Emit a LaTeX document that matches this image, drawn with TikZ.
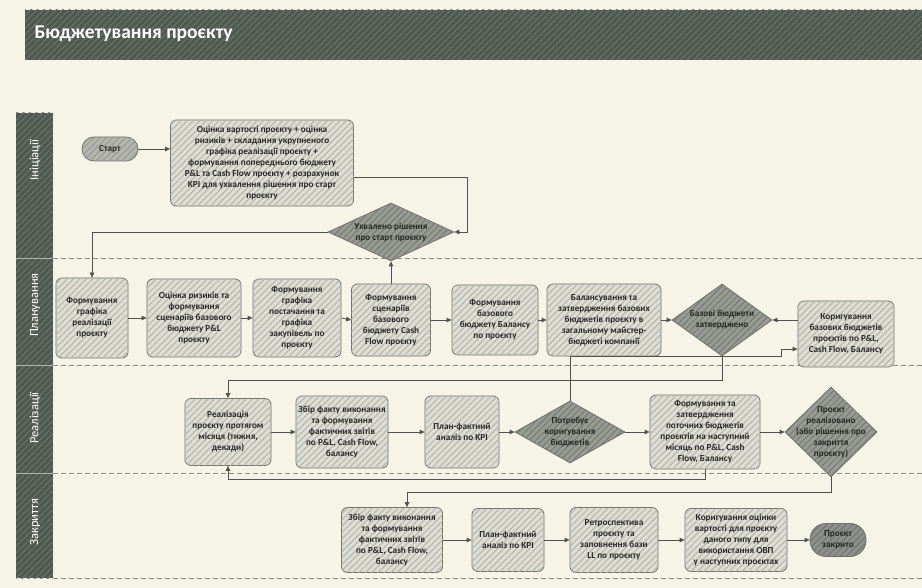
\documentclass[tikz,border=0pt]{standalone}
\usepackage{fontspec}
\setmainfont{Carlito}
\usetikzlibrary{shapes.geometric,arrows.meta,patterns.meta,calc}
\definecolor{bgc}{HTML}{F6F4E6}
\definecolor{darkc}{HTML}{4F5950}
\definecolor{darkh}{HTML}{66716A}
\definecolor{boxc}{HTML}{DEDED4}
\definecolor{boxh}{HTML}{B7B8AE}
\definecolor{diac}{HTML}{989B94}
\definecolor{diah}{HTML}{7B7E78}
\definecolor{startc}{HTML}{B5B7AF}
\definecolor{starth}{HTML}{9A9C95}
\definecolor{endc}{HTML}{8E918B}
\definecolor{endh}{HTML}{757872}
\definecolor{linec}{HTML}{505050}
\definecolor{bordc}{HTML}{6E6E6A}
\definecolor{txtc}{HTML}{262624}
\definecolor{lanec}{HTML}{8A8A84}
\tikzset{
  hatchb/.style={postaction={pattern={Lines[angle=45,distance=4.5pt,line width=1.2pt]},pattern color=#1}},
  nfont/.style={font=\fontsize{9.2}{11}\selectfont\bfseries, text=txtc},
  proc/.style={rectangle, rounded corners=6pt, draw=bordc, line width=0.8pt, fill=boxc, hatchb=boxh, align=center, nfont, inner sep=1pt},
  dia/.style={diamond, draw=bordc, line width=0.8pt, fill=diac, hatchb=diah, inner sep=0pt},
  dtext/.style={align=center, nfont, inner sep=0pt},
  pill/.style={rectangle, draw=bordc, line width=0.8pt, align=center, nfont, inner sep=1pt},
  conn/.style={draw=linec, line width=0.8pt, -{Triangle[length=5pt,width=4.5pt]}},
  laneline/.style={draw=lanec, line width=0.7pt, dash pattern=on 5pt off 3pt},
  lanelabel/.style={rotate=90, text=white, font=\fontsize{12.5}{14}\selectfont},
}
\begin{document}
\begin{tikzpicture}[x=1pt,y=-1pt]
\useasboundingbox (0,0) rectangle (922,588);
\fill[bgc] (0,0) rectangle (922,588);

% title bar
\fill[darkc, hatchb=darkh] (25,10) rectangle (922,60);
\node[anchor=west, text=white, font=\fontsize{19.5}{22}\selectfont\bfseries] (title) at (31,34) {Бюджетування проєкту};

% lane strip
\fill[darkc, hatchb=darkh] (16,113) rectangle (53,578);
\foreach \yy in {258,365,473} \draw[white!55!darkc, line width=0.8pt] (16,\yy) -- (53,\yy);
\node[lanelabel] (L1) at (35,160) {Ініціації};
\node[lanelabel] (L2) at (35,305) {Планування};
\node[lanelabel] (L3) at (35,418) {Реалізації};
\node[lanelabel] (L4) at (35,522) {Закриття};

% lane dividers
\foreach \yy in {258,365,473,578} \draw[laneline] (53,\yy) -- (922,\yy);

% Lane 1
\node[pill, rounded corners=12pt, fill=startc, hatchb=starth, minimum width=56pt, minimum height=24pt] (start) at (110,149) {Старт};
\node[proc, minimum width=183pt, minimum height=86pt] (B1) at (262,163) {Оцінка вартості проєкту + оцінка\\ризиків + складання укрупненого\\графіка реалізації проєкту +\\формування попереднього бюджету\\P\&L та Cash Flow проєкту + розрахунок\\KPI для ухвалення рішення про старт\\проєкту};
\node[dia, minimum width=126pt, minimum height=58pt] (D1) at (391,232) {};
\node[dtext] (D1t) at (D1) {Ухвалено рішення\\про старт проєкту};

% Lane 2
\node[proc, minimum width=72pt, minimum height=80pt] (P1) at (92,318) {Формування\\графіка\\реалізації\\проєкту};
\node[proc, minimum width=94pt, minimum height=78pt] (P2) at (194,318) {Оцінка ризиків та\\формування\\сценаріїв базового\\бюджету P\&L\\проєкту};
\node[proc, minimum width=88pt, minimum height=78pt] (P3) at (297,318) {Формування\\графіка\\постачання та\\графіка\\закупівель по\\проєкту};
\node[proc, minimum width=79pt, minimum height=72pt] (P4) at (391,320) {Формування\\сценаріїв\\базового\\бюджету Cash\\Flow проєкту};
\node[proc, minimum width=86pt, minimum height=70pt] (P5) at (495,320) {Формування\\базового\\бюджету Балансу\\по проєкту};
\node[proc, minimum width=114pt, minimum height=72pt] (P6) at (604,320) {Балансування та\\затвердження базових\\бюджетів проєкту в\\загальному майстер-\\бюджеті компанії};
\node[dia, minimum width=100pt, minimum height=72pt] (D2) at (722,320) {};
\node[dtext] (D2t) at (D2) {Базові бюджети\\затверджено};
\node[proc, minimum width=96pt, minimum height=66pt] (P7) at (846,334) {Коригування\\базових бюджетів\\проєктів по P\&L,\\Cash Flow, Балансу};

% Lane 3
\node[proc, minimum width=86pt, minimum height=67pt] (R1) at (228,432) {Реалізація\\проєкту протягом\\місяця (тижня,\\декади)};
\node[proc, minimum width=92pt, minimum height=72pt] (R2) at (342,432) {Збір факту виконання\\та формування\\фактичних звітів\\по P\&L, Cash Flow,\\балансу};
\node[proc, minimum width=74pt, minimum height=72pt] (R3) at (462,432) {План-фактний\\аналіз по KPI};
\node[dia, minimum width=110pt, minimum height=62pt] (D3) at (570,432) {};
\node[dtext] (D3t) at (D3) {Потребує\\коригування\\бюджетів};
\node[proc, minimum width=110pt, minimum height=74pt] (R4) at (705,432) {Формування та\\затвердження\\поточних бюджетів\\проєктів на наступний\\місяць по P\&L, Cash\\Flow, Балансу};
\node[dia, minimum width=92pt, minimum height=90pt] (D4) at (831,432) {};
\node[dtext] (D4t) at (D4) {Проєкт\\реалізовано\\(або рішення про\\закриття\\проєкту)};

% Lane 4
\node[proc, minimum width=101pt, minimum height=65pt] (C1) at (392,540) {Збір факту виконання\\та формування\\фактичних звітів\\по P\&L, Cash Flow,\\балансу};
\node[proc, minimum width=72pt, minimum height=63pt] (C2) at (508,540) {План-фактний\\аналіз по KPI};
\node[proc, minimum width=88pt, minimum height=65pt] (C3) at (614,540) {Ретроспектива\\проєкту та\\заповнення бази\\LL по проєкту};
\node[proc, minimum width=102pt, minimum height=63pt] (C4) at (736,540) {Коригування оцінки\\вартості для проєкту\\даного типу для\\використання ОВП\\у наступних проєктах};
\node[pill, rounded corners=16pt, fill=endc, hatchb=endh, minimum width=56pt, minimum height=33pt] (end) at (838,540) {Проєкт\\закрито};

% connectors lane 1
\draw[conn] (start.east) -- (start.east -| B1.west);
\draw[conn] ([yshift=-14pt]B1.east) -- ++(113,0) |- (D1.east);
\draw[conn] (D1.west) -| (P1.north);
\draw[conn] (P4.north) -- (D1.south);

% lane 2
\draw[conn] (P1.east) -- (P2.west);
\draw[conn] (P2.east) -- (P3.west);
\draw[conn] (P3.east) -- (P4.west);
\draw[conn] (P4.east) -- (P5.west);
\draw[conn] (P5.east) -- (P6.west);
\draw[conn] (P6.east) -- (D2.west);
\draw[conn] (P7.west |- D2.east) -- (D2.east);

% cross-lane
\draw[conn] (D2.south) -- ++(0,24) -| (R1.north);
\coordinate (bk) at (781,356);
\coordinate (p7y) at (0,349);
\draw[conn] (D3.north) |- (bk) -- (bk |- p7y) -- (P7.west |- p7y);

% lane 3
\draw[conn] (R1.east) -- (R2.west);
\draw[conn] (R2.east) -- (R3.west);
\draw[conn] (R3.east) -- (D3.west);
\draw[conn] (D3.east) -- (R4.west);
\draw[conn] (R4.east) -- (D4.west);
\coordinate (cj) at (228,479);
\draw[conn] (R4.south) |- (cj) -- (R1.south);
\coordinate (dj) at (407,492);
\draw[conn] (D4.south) |- (dj) -- (dj |- C1.north);

% lane 4
\draw[conn] (C1.east) -- (C2.west);
\draw[conn] (C2.east) -- (C3.west);
\draw[conn] (C3.east) -- (C4.west);
\draw[conn] (C4.east) -- (end.west);
\end{tikzpicture}
\end{document}
